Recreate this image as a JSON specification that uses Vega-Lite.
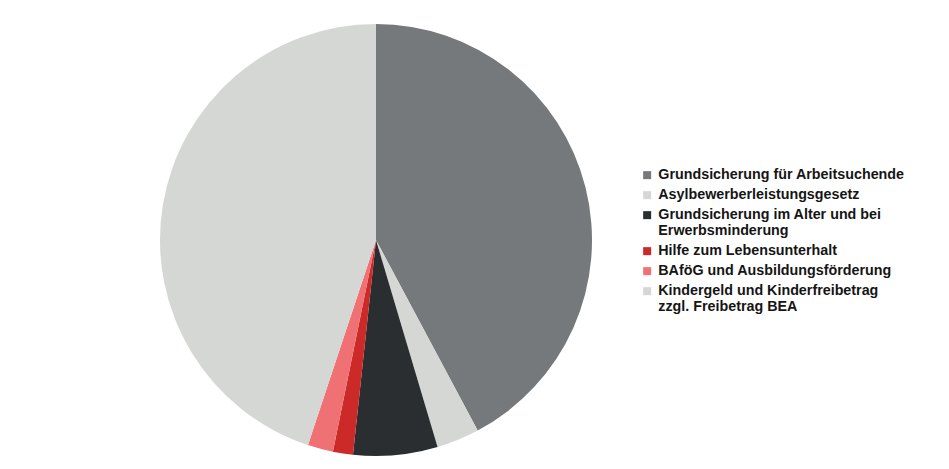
{
  "$schema": "https://vega.github.io/schema/vega-lite/v6.json",
  "autosize": {"type": "none"},
  "width": 752,
  "height": 458,
  "padding": {"left": 0, "top": 11, "right": 197, "bottom": 0},
  "background": "white",
  "config": {"view": {"stroke": null}},
  "data": {
    "values": [
      {"idx": 1, "category": "Grundsicherung für Arbeitsuchende", "value": 42.2},
      {"idx": 2, "category": "Asylbewerberleistungsgesetz", "value": 3.2},
      {"idx": 3, "category": "Grundsicherung im Alter und bei Erwerbsminderung", "value": 6.3},
      {"idx": 4, "category": "Hilfe zum Lebensunterhalt", "value": 1.5},
      {"idx": 5, "category": "BAföG und Ausbildungsförderung", "value": 1.9},
      {"idx": 6, "category": "Kindergeld und Kinderfreibetrag zzgl. Freibetrag BEA", "value": 44.9}
    ]
  },
  "mark": {"type": "arc", "outerRadius": 216},
  "encoding": {
    "theta": {"field": "value", "type": "quantitative", "stack": true},
    "order": {"field": "idx", "type": "quantitative"},
    "color": {
      "field": "category",
      "type": "nominal",
      "sort": null,
      "scale": {
        "domain": [
          "Grundsicherung für Arbeitsuchende",
          "Asylbewerberleistungsgesetz",
          "Grundsicherung im Alter und bei Erwerbsminderung",
          "Hilfe zum Lebensunterhalt",
          "BAföG und Ausbildungsförderung",
          "Kindergeld und Kinderfreibetrag zzgl. Freibetrag BEA"
        ],
        "range": ["#76797b", "#d5d7d4", "#2a2e31", "#cc2929", "#f07174", "#d5d7d4"]
      },
      "legend": {
        "title": null,
        "orient": "none",
        "legendX": 640,
        "legendY": 157,
        "padding": 0,
        "symbolType": "square",
        "symbolSize": 64,
        "symbolStrokeWidth": 0,
        "symbolOpacity": 1,
        "labelFont": "Liberation Sans",
        "labelFontSize": 14.3,
        "labelFontWeight": "bold",
        "labelColor": "#151515",
        "labelLimit": 400,
        "labelOffset": 4,
        "labelLineHeight": 16,
        "rowPadding": 5,
        "labelExpr": "datum.label == 'Grundsicherung im Alter und bei Erwerbsminderung' ? ['Grundsicherung im Alter und bei', 'Erwerbsminderung'] : datum.label == 'Kindergeld und Kinderfreibetrag zzgl. Freibetrag BEA' ? ['Kindergeld und Kinderfreibetrag', 'zzgl. Freibetrag BEA'] : datum.label"
      }
    }
  }
}
